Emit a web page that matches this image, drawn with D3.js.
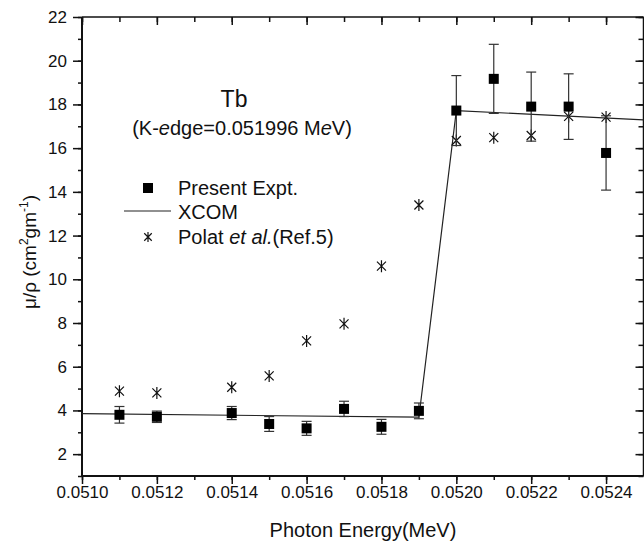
<!DOCTYPE html>
<html>
<head>
<meta charset="utf-8">
<script src="https://cdn.jsdelivr.net/npm/d3@7"></script>
<style>
  body { margin: 0; background: #fff; }
  svg text { font-family: Arial, "Liberation Sans", sans-serif; fill: #111; }
</style>
</head>
<body>
<div id="chart"></div>
<script>
// data
var energies   = [0.05110, 0.05120, 0.05140, 0.05150, 0.05160, 0.05170, 0.05180, 0.05190, 0.05200, 0.05210, 0.05220, 0.05230, 0.05240];
var exptValues = [3.80, 3.71, 3.88, 3.38, 3.18, 4.07, 3.25, 3.98, 17.72, 19.17, 17.90, 17.90, 15.78];
var exptErrors = [0.38, 0.26, 0.30, 0.34, 0.32, 0.35, 0.34, 0.36, 1.60, 1.58, 1.58, 1.50, 1.70];
var polatValues = [4.88, 4.80, 5.06, 5.58, 7.18, 7.96, 10.60, 13.40, 16.35, 16.48, 16.58, 17.45, 17.42];
var xcomEnergies = [0.05100, 0.05190, 0.05200, 0.05250];
var xcomValues   = [3.85, 3.69, 17.72, 17.29];
var xTicks = [0.0510, 0.0512, 0.0514, 0.0516, 0.0518, 0.0520, 0.0522, 0.0524];
var yTicks = [2, 4, 6, 8, 10, 12, 14, 16, 18, 20, 22];

var width = 644, height = 546;
var svg = d3.select("#chart").append("svg")
  .attr("width", width).attr("height", height);

var x = d3.scaleLinear().domain([0.0510, 0.0525]).range([82, 643.5]);
var y = d3.scaleLinear().domain([1, 22]).range([476, 17]);

// minor tick values
var xMinor = d3.range(0, 15).map(function(i){ return 0.0510 + i * 0.0001; });
var yMinor = d3.range(1, 23);

// bottom axis
var axBottom = svg.append("g").attr("transform", "translate(0," + y(1) + ")");
axBottom.call(d3.axisBottom(x).tickValues(xMinor).tickSize(4).tickFormat(""));
axBottom.append("g").call(d3.axisBottom(x).tickValues(xTicks).tickSize(8).tickPadding(2)
  .tickFormat(d3.format(".4f")));
// left axis
var axLeft = svg.append("g").attr("transform", "translate(" + x(0.0510) + ",0)");
axLeft.call(d3.axisLeft(y).tickValues(yMinor).tickSize(4).tickFormat(""));
axLeft.append("g").call(d3.axisLeft(y).tickValues(yTicks).tickSize(9).tickPadding(6)
  .tickFormat(d3.format("d")));
// top axis (ticks inside)
var axTop = svg.append("g").attr("transform", "translate(0," + y(22) + ")");
axTop.call(d3.axisBottom(x).tickValues(xMinor).tickSize(5).tickFormat(""));
axTop.append("g").call(d3.axisBottom(x).tickValues(xTicks).tickSize(8).tickFormat(""));
// right axis (ticks inside)
var axRight = svg.append("g").attr("transform", "translate(" + x(0.0525) + ",0)");
axRight.call(d3.axisLeft(y).tickValues(yMinor).tickSize(5).tickFormat(""));
axRight.append("g").call(d3.axisLeft(y).tickValues(yTicks).tickSize(8).tickFormat(""));

svg.selectAll("g").attr("font-size", 17).attr("font-family", "Arial, 'Liberation Sans', sans-serif");
svg.selectAll(".domain").attr("stroke", "none");
svg.selectAll(".tick line").attr("stroke", "#111").attr("stroke-width", 1.5);
svg.selectAll(".tick text").attr("font-size", 17).style("font-size", "17px").attr("fill", "#222");

// frame
svg.append("line").attr("x1", x(0.0510)).attr("x2", x(0.0525)).attr("y1", y(1)).attr("y2", y(1))
  .attr("stroke", "#111").attr("stroke-width", 2);
svg.append("line").attr("x1", x(0.0510)).attr("x2", x(0.0525)).attr("y1", y(22)).attr("y2", y(22))
  .attr("stroke", "#111").attr("stroke-width", 1.5);
svg.append("line").attr("x1", x(0.0510)).attr("x2", x(0.0510)).attr("y1", y(1)).attr("y2", y(22))
  .attr("stroke", "#111").attr("stroke-width", 2);
svg.append("line").attr("x1", x(0.0525)).attr("x2", x(0.0525)).attr("y1", y(1)).attr("y2", y(22))
  .attr("stroke", "#111").attr("stroke-width", 1.5);

// XCOM line
var line = d3.line().x(function(d){ return x(d[0]); }).y(function(d){ return y(d[1]); });
svg.append("path")
  .datum(xcomEnergies.map(function(e, i){ return [e, xcomValues[i]]; }))
  .attr("d", line).attr("fill", "none").attr("stroke", "#222").attr("stroke-width", 1.2);

// asterisk symbol
function asterisk(g, cx, cy, r) {
  var d = r * 0.75;
  g.append("path")
    .attr("d", "M" + cx + "," + (cy - r) + "V" + (cy + r) +
      "M" + (cx - d) + "," + (cy - d) + "L" + (cx + d) + "," + (cy + d) +
      "M" + (cx - d) + "," + (cy + d) + "L" + (cx + d) + "," + (cy - d))
    .attr("stroke", "#111").attr("stroke-width", 1.2).attr("fill", "none");
}

// Polat data
var polat = svg.append("g");
energies.forEach(function(e, i){ asterisk(polat, x(e), y(polatValues[i]), 6); });

// error bars
var expt = energies.map(function(e, i){ return {e: e, v: exptValues[i], err: exptErrors[i]}; });
var eb = svg.append("g").attr("stroke", "#333").attr("stroke-width", 1.2);
eb.selectAll("line.v").data(expt).enter().append("line")
  .attr("x1", function(d){ return x(d.e); }).attr("x2", function(d){ return x(d.e); })
  .attr("y1", function(d){ return y(d.v - d.err); }).attr("y2", function(d){ return y(d.v + d.err); });
eb.selectAll("line.t").data(expt).enter().append("line")
  .attr("x1", function(d){ return x(d.e) - 5; }).attr("x2", function(d){ return x(d.e) + 5; })
  .attr("y1", function(d){ return y(d.v + d.err); }).attr("y2", function(d){ return y(d.v + d.err); });
eb.selectAll("line.b").data(expt).enter().append("line")
  .attr("x1", function(d){ return x(d.e) - 5; }).attr("x2", function(d){ return x(d.e) + 5; })
  .attr("y1", function(d){ return y(d.v - d.err); }).attr("y2", function(d){ return y(d.v - d.err); });

// squares
svg.append("g").selectAll("rect").data(expt).enter().append("rect")
  .attr("x", function(d){ return x(d.e) - 5; }).attr("y", function(d){ return y(d.v) - 5; })
  .attr("width", 10).attr("height", 10).attr("fill", "#000");

// title texts
svg.append("text").attr("x", 234).attr("y", 107).attr("text-anchor", "middle")
  .style("font-size", "23px").text("Tb");
var ke = svg.append("text").attr("x", 242).attr("y", 135).attr("text-anchor", "middle")
  .style("font-size", "20px");
ke.append("tspan").text("(K-");
ke.append("tspan").style("font-style", "italic").text("e");
ke.append("tspan").text("dge=0.051996 M");
ke.append("tspan").style("font-style", "italic").text("e");
ke.append("tspan").text("V)");

// legend
var lg = svg.append("g");
lg.append("rect").attr("x", 143).attr("y", 183).attr("width", 10).attr("height", 10).attr("fill", "#000");
lg.append("text").attr("x", 178).attr("y", 195).style("font-size", "20px").text("Present Expt.");
lg.append("line").attr("x1", 124).attr("x2", 171).attr("y1", 211).attr("y2", 211)
  .attr("stroke", "#222").attr("stroke-width", 1.2);
lg.append("text").attr("x", 178).attr("y", 219).style("font-size", "20px").text("XCOM");
asterisk(lg, 148, 237, 5);
var pl = lg.append("text").attr("x", 178).attr("y", 244).style("font-size", "20px");
pl.append("tspan").text("Polat ");
pl.append("tspan").style("font-style", "italic").text("et al.");
pl.append("tspan").text("(Ref.5)");

// axis labels
svg.append("text").attr("x", 363).attr("y", 537).attr("text-anchor", "middle")
  .style("font-size", "20px").text("Photon Energy(MeV)");
var yl = svg.append("text").attr("transform", "translate(36,252) rotate(-90)")
  .attr("text-anchor", "middle").style("font-size", "19px");
yl.append("tspan").text("\u03bc/\u03c1 (cm");
yl.append("tspan").attr("dy", -8).style("font-size", "12px").text("2");
yl.append("tspan").attr("dy", 8).text("gm");
yl.append("tspan").attr("dy", -8).style("font-size", "12px").text("-1");
yl.append("tspan").attr("dy", 8).text(")");
</script>
</body>
</html>
